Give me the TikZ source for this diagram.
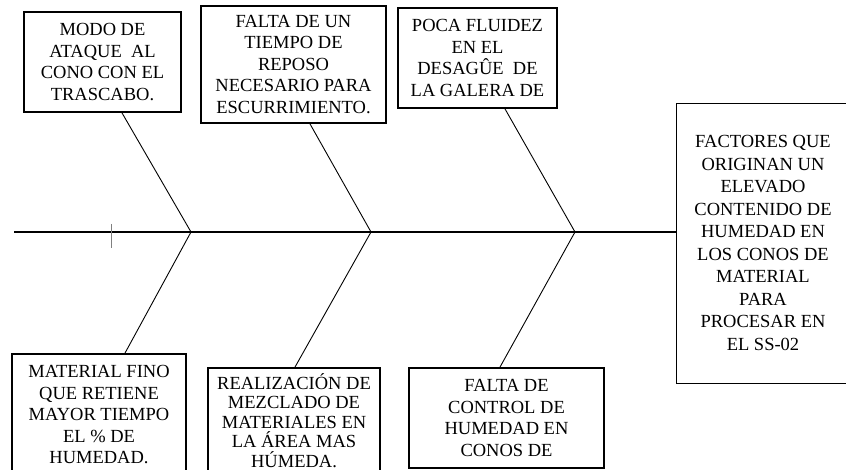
\documentclass[tikz,border=0pt]{standalone}
\usepackage{fontspec}
\setmainfont{Liberation Serif}

\begin{document}
\begin{tikzpicture}[x=1pt,y=-1pt,
    causa/.style={draw,line width=1.8pt,align=center,inner sep=0pt,
      font=\fontsize{18.5}{21.5}\selectfont},
    efecto/.style={draw,line width=0.9pt,align=center,inner sep=0pt,
      font=\fontsize{18.5}{22.5}\selectfont}]

  \clip (0,0) rectangle (846,470);

  \node[causa,minimum width=157,minimum height=100] (M1) at (102.5,62) {MODO DE\\ATAQUE~ AL\\CONO CON EL\\TRASCABO.};
  \node[causa,minimum width=185,minimum height=117] (M2) at (293.5,64.5) {FALTA DE UN\\TIEMPO DE\\REPOSO\\NECESARIO PARA\\ESCURRIMIENTO.};
  \node[causa,minimum width=159,minimum height=100] (M3) at (477.5,58) {POCA FLUIDEZ\\EN EL\\DESAGÛE~ DE\\LA GALERA DE};

  \node[causa,minimum width=174,minimum height=122] (M4) at (99,415) {MATERIAL FINO\\QUE RETIENE\\MAYOR TIEMPO\\EL \% DE\\HUMEDAD.};
  \node[causa,minimum width=172,minimum height=105,font=\fontsize{18.5}{19.5}\selectfont] (M5) at (294,420.5) {REALIZACIÓN DE\\MEZCLADO DE\\MATERIALES EN\\LA ÁREA MAS\\HÚMEDA.};
  \node[causa,minimum width=195,minimum height=100] (M6) at (506.5,418) {FALTA DE\\CONTROL DE\\HUMEDAD EN\\CONOS DE};

  \node[efecto,minimum width=174,minimum height=280] (E) at (763,243) {FACTORES QUE\\ORIGINAN UN\\ELEVADO\\CONTENIDO DE\\HUMEDAD EN\\LOS CONOS DE\\MATERIAL\\PARA\\PROCESAR EN\\EL SS-02};

  \coordinate (S0) at (14,232);
  \coordinate (J1) at (191,232);
  \coordinate (J2) at (371,232);
  \coordinate (J3) at (575,232);
  \coordinate (T1) at (111,224);
  \coordinate (T2) at (111,248);

  \draw[line width=2.2pt] (S0) -- (S0 -| E.west);
  \draw[gray,line width=0.8pt] (T1) -- (T2);

  \draw[line width=0.9pt] ([xshift=19.5pt]M1.south) -- (J1) -- ([xshift=26pt]M4.north);
  \draw[line width=0.9pt] ([xshift=16.5pt]M2.south) -- (J2) -- ([xshift=1pt]M5.north);
  \draw[line width=0.9pt] ([xshift=27.5pt]M3.south) -- (J3) -- ([xshift=-6.5pt]M6.north);

\end{tikzpicture}
\end{document}
